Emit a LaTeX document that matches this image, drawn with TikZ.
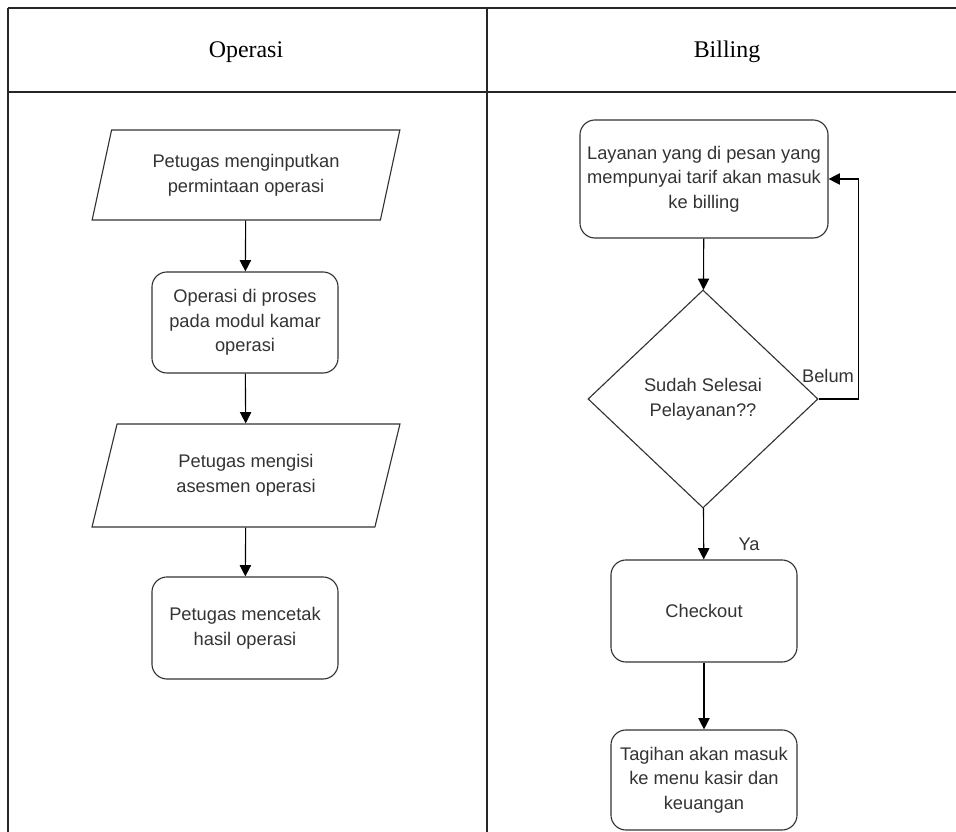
\documentclass[tikz,border=0pt]{standalone}
\usepackage{fontspec}
\setmainfont{Liberation Serif}
\setsansfont{Liberation Sans}
\usetikzlibrary{arrows.meta,positioning,shapes.geometric}

\begin{document}
\begin{tikzpicture}[x=0.025cm, y=-0.025cm, line width=0.8pt, >={Triangle[length=8pt,width=8pt]}]
\tikzstyle{every node} = [font=\sffamily\fontsize{13}{17.5}\selectfont, text=black!80, align=center, inner sep=0cm]
\tikzstyle{proc} = [draw=black!80, rounded corners=0.375cm, minimum width=4.65cm]
\tikzstyle{io} = [draw=black!80, trapezium, trapezium left angle=72, trapezium right angle=108, trapezium stretches=true, minimum width=7.7cm]
\useasboundingbox (0,0) rectangle (956,832);
% table
\draw[black!85] (8,8) -- (956,8)
	(8,92) -- (956,92)
	(8,8) -- (8,832)
	(487,8) -- (487,832);
\node[font=\rmfamily\fontsize{17}{20}\selectfont, text=black] (hop) at (246,52) {Operasi};
\node[font=\rmfamily\fontsize{17}{20}\selectfont, text=black] (hbill) at (727,52) {Billing};
% operasi
\node[io, minimum height=2.25cm] (input) at (246,175) {Petugas menginputkan\\permintaan operasi};
\node[proc, minimum height=2.525cm] (proses) at (245,322.5) {Operasi di proses\\pada modul kamar\\operasi};
\node[io, minimum height=2.575cm] (asesmen) at (246,475.5) {Petugas mengisi\\asesmen operasi};
\node[proc, minimum height=2.55cm] (cetak) at (245,628) {Petugas mencetak\\hasil operasi};
\draw[->] (input) -- (proses);
\draw[->] (proses) -- (asesmen);
\draw[->] (asesmen) -- (cetak);
% billing
\node[proc, minimum width=6.2cm, minimum height=2.95cm] (layanan) at (704,179) {Layanan yang di pesan yang\\mempunyai tarif akan masuk\\ke billing};
\node[draw=black!80, diamond, aspect=1.05, minimum width=5.75cm, minimum height=5.45cm] (selesai) at (703,399) {Sudah Selesai\\Pelayanan??};
\node[proc, minimum height=2.55cm] (checkout) at (704,611) {Checkout};
\node[proc, minimum height=2.5cm] (tagihan) at (704,780) {Tagihan akan masuk\\ke menu kasir dan\\keuangan};
\node (belum) at (828,376) {Belum};
\node (ya) at (749,544) {Ya};
\draw[->] (layanan) -- (selesai);
\draw[->] (selesai.east) -- ++(40,0) |- (layanan.east);
\draw[->] (selesai) -- (checkout);
\draw[->] (checkout) -- (tagihan);
\end{tikzpicture}
\end{document}
